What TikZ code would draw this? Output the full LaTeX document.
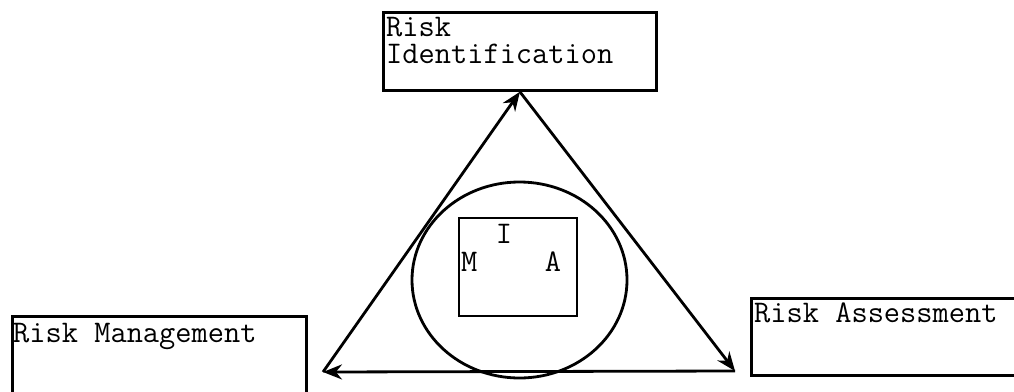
\documentclass[tikz,border=0pt]{standalone}
\usepackage{fontspec}
\usetikzlibrary{arrows.meta,positioning,shapes.geometric}
\tikzset{
  riskbox/.style={draw,line width=2.8pt,inner sep=0pt,anchor=north west},
  boxtext/.style={inner sep=0pt,anchor=base west,align=left,font=\ttfamily\fontsize{31.5}{27}\selectfont},
  cyclearrow/.style={line width=2.8pt,-{Stealth[length=19pt,width=15pt]}},
}

\begin{document}
\begin{tikzpicture}[x=1pt,y=-1pt]
  \clip (0,0) rectangle (1014,391);
  % the three stages
  \node[riskbox,minimum width=273pt,minimum height=78pt] (ident) at (382,11) {};
  \node[riskbox,minimum width=294pt,minimum height=100pt] (manage) at (11,315) {};
  \node[riskbox,minimum width=300pt,minimum height=77pt] (assess) at (750,297) {};
  \node[boxtext] (identtext) at (386,63) {Risk\\Identification};
  \node[boxtext] (managetext) at (13,342) {Risk Management};
  \node[boxtext] (assesstext) at (754,322) {Risk Assessment};
  % the cycle
  \coordinate (apex) at (ident.south);
  \coordinate (lcorner) at (323,372);
  \coordinate (rcorner) at (735,371);
  \draw[cyclearrow] (lcorner) -- (apex);
  \draw[cyclearrow] (apex) -- (rcorner);
  \draw[cyclearrow] (rcorner) -- (lcorner);
  % centre
  \node[draw,ellipse,line width=2.8pt,minimum width=215pt,minimum height=196pt] (core) at (519.5,280) {};
  \node[draw,line width=1.4pt,minimum width=118pt,minimum height=98pt] (mia) at (518,267) {};
  \node[boxtext,anchor=base] (ilabel) at (504,243) {I};
  \node[boxtext] (mlabel) at (461,271) {M};
  \node[boxtext,anchor=base] (alabel) at (553,271) {A};
\end{tikzpicture}
\end{document}
